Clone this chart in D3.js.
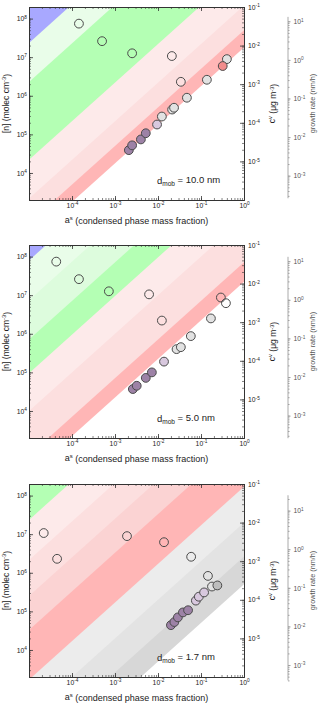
<!DOCTYPE html>
<html>
<head>
<meta charset="utf-8">
<script src="https://cdn.jsdelivr.net/npm/d3@7"></script>
<style>
body { margin: 0; background: #fff; }
svg { display: block; font-family: "Liberation Sans", Arial, sans-serif; }
</style>
</head>
<body>
<svg id="chart" width="320" height="705"></svg>
<script>
// ---- data ----
const aTicks = [1e-4, 1e-3, 1e-2, 1e-1, 1];
const nTicks = [1e4, 1e5, 1e6, 1e7, 1e8];
const cTicks = [1e-5, 1e-4, 1e-3, 1e-2, 1e-1];
const grTicks = [1e-3, 1e-2, 1e-1, 1, 10];
const dmob = ['10.0', '5.0', '1.7'];

// band edges in log10 C* (= c^v / a^s); each band runs from its edge down to the next
const bands1 = [[9, 'blue'], [3.07, 'paleGreen'], [2.06, 'green'], [0.04, 'pink1'], [-0.96, 'pink2'], [-1.6, 'red'], [-2.05, 'white']];
const bands2 = [[9, 'blue'], [3.6, 'paleGreen'], [2.57, 'paleGreen2'], [1.55, 'green'], [0.68, 'pink1'], [-0.3, 'pink2'], [-1.45, 'red'], [-1.95, 'white']];
const bands3 = [[9, 'green'], [3.07, 'pink1'], [2.03, 'pink2'], [1.1, 'pink3'], [0.22, 'red'], [-1.07, 'gray1'], [-2.0, 'gray2'], [-2.88, 'gray3'], [-3.6, 'white']];

// observations: [a^s, [n], kind]
const obs1 = [
  [1.45e-4, 7.4e7, 'open'], [5.0e-4, 2.6e7, 'open'], [2.5e-3, 1.26e7, 'open'], [0.021, 1.07e7, 'open'], [0.034, 2.3e6, 'open'],
  [2.1e-3, 3.9e4, 'purple'], [2.5e-3, 5.2e4, 'purple'], [4.0e-3, 7.4e4, 'purple'], [5.2e-3, 1.07e5, 'purple'],
  [9.5e-3, 1.8e5, 'lilac'], [0.0123, 2.9e5, 'light'], [0.0213, 4.4e5, 'light'], [0.0236, 4.9e5, 'light'],
  [0.047, 8.9e5, 'light'], [0.137, 2.6e6, 'light'], [0.40, 8.9e6, 'light'], [0.32, 5.9e6, 'red']
];
const obs2 = [
  [4.3e-5, 7.4e7, 'open'], [1.45e-4, 2.6e7, 'open'], [7.2e-4, 1.26e7, 'open'], [6.2e-3, 1.05e7, 'open'],
  [0.0123, 2.2e6, 'open'], [0.29, 8.7e6, 'open'], [0.38, 6.2e6, 'open'],
  [2.6e-3, 3.7e4, 'purple'], [3.2e-3, 4.5e4, 'purple'], [5.2e-3, 7.2e4, 'purple'], [7.2e-3, 1.0e5, 'purple'],
  [0.0138, 1.9e5, 'lilac'], [0.027, 4.0e5, 'light'], [0.034, 4.5e5, 'light'], [0.058, 8.7e5, 'light'], [0.17, 2.5e6, 'light']
];
const obs3 = [
  [2.2e-5, 1.07e7, 'open'], [4.5e-5, 2.3e6, 'open'], [1.9e-3, 8.9e6, 'open'], [0.0138, 6.2e6, 'open'],
  [0.059, 2.6e6, 'open'], [0.145, 8.3e5, 'open'],
  [0.020, 4.4e4, 'purple'], [0.024, 5.3e4, 'purple'], [0.029, 7.0e4, 'purple'], [0.038, 9.4e4, 'purple'], [0.05, 1.07e5, 'purple'],
  [0.076, 1.9e5, 'lilac'], [0.089, 2.4e5, 'lilac'], [0.118, 3.1e5, 'lilac'], [0.18, 4.4e5, 'light'], [0.24, 4.7e5, 'gray']
];

// growth-rate axis: log10(GR) - log10(c^v), and extent of the axis in GR
const grOffset = [2.37, 2.42, 2.69];
const grExtent = [[2.6e-4, 13], [2.6e-4, 13], [4e-4, 25]];

// ---- styles ----
const bandColor = {
  blue: '#a8a8ff', paleGreen: '#e9fde9', paleGreen2: '#ddfcdd', green: '#b4ffb4',
  pink1: '#fdeaea', pink2: '#fcdfdf', pink3: '#fbd3d3', red: '#ffb6b6',
  gray1: '#ececec', gray2: '#e3e3e3', gray3: '#d7d7d7', white: '#ffffff'
};
const dotColor = { open: 'none', purple: '#9d82a6', lilac: '#d8c8de', light: '#e2e2e2', gray: '#bdbdbd', red: '#f28c8c' };

const svg = d3.select('#chart');
const X0 = 29, X1 = 244, PH = 193;
const tops = [7, 245, 484];
const panels = [
  { bands: bands1, obs: obs1 },
  { bands: bands2, obs: obs2 },
  { bands: bands3, obs: obs3 }
];

function logTicks(lo, hi) {
  const out = [];
  for (let e = Math.floor(Math.log10(lo)); e <= Math.ceil(Math.log10(hi)); e++) {
    for (let m = 1; m < 10; m++) {
      const v = m * Math.pow(10, e);
      if (v >= lo * 0.999 && v <= hi * 1.001) out.push(v);
    }
  }
  return out;
}

function pow10(text) {
  text.each(function(d) {
    const t = d3.select(this);
    const e = Math.round(Math.log10(d));
    t.text(null);
    t.append('tspan').text('10');
    t.append('tspan').attr('dy', '-0.5em').attr('font-size', '0.7em').text(e);
  });
}

function drawAxis(g, axis, minor, major, labels) {
  g.call(axis.tickValues(minor).tickSize(-2).tickFormat(''));
  g.selectAll('.tick line').attr('stroke', '#333').attr('stroke-width', 0.6);
  const m = g.append('g').call(axis.tickValues(major).tickSize(-4).tickFormat(labels ? d => d : ''));
  m.select('.domain').remove();
  m.selectAll('.tick line').attr('stroke', '#333').attr('stroke-width', 0.8);
  g.select('.domain').attr('stroke', '#333').attr('stroke-width', 1);
  if (labels) m.selectAll('.tick text').attr('font-size', 6.8).attr('fill', '#222').call(pow10);
}

panels.forEach((p, i) => {
  const top = tops[i], bottom = top + PH;
  const x = d3.scaleLog().domain([1e-5, 1]).range([X0, X1]);
  const yc = d3.scaleLog().domain([1e-6, 1e-1]).range([bottom, top]);
  const yn = d3.scaleLog().domain([Math.pow(10, 3.3), Math.pow(10, 8.3)]).range([bottom, top]);
  const gr = d3.scaleLog()
    .domain([Math.pow(10, -6 + grOffset[i]), Math.pow(10, -1 + grOffset[i])])
    .range([bottom, top]);

  const g = svg.append('g');
  const clipId = 'clip' + i;
  g.append('clipPath').attr('id', clipId)
    .append('rect').attr('x', X0).attr('y', top).attr('width', X1 - X0).attr('height', PH);

  // volatility bands: fill everything below each edge line, highest edge first
  const bandLine = d3.line().x(d => x(d[0])).y(d => yc(d[1]));
  const bg = g.append('g').attr('clip-path', `url(#${clipId})`);
  p.bands.forEach(([edge, key]) => {
    const k = Math.pow(10, edge);
    const pts = [[1e-9, k * 1e-9], [1e3, k * 1e3], [1e3, 1e-14], [1e-9, 1e-14]];
    bg.append('path').attr('d', bandLine(pts) + 'Z').attr('fill', bandColor[key]);
  });

  // observations
  g.append('g').selectAll('circle').data(p.obs).join('circle')
    .attr('cx', d => x(d[0])).attr('cy', d => yn(d[1])).attr('r', 4.4)
    .attr('fill', d => dotColor[d[2]])
    .attr('stroke', '#4a4a4a').attr('stroke-width', 1);

  // frame axes
  const aMinor = logTicks(1e-5, 1), nMinor = logTicks(Math.pow(10, 3.3), Math.pow(10, 8.3)), cMinor = logTicks(1e-6, 1e-1);
  drawAxis(g.append('g').attr('transform', `translate(0,${bottom})`), d3.axisBottom(x).tickPadding(3), aMinor, aTicks, true);
  drawAxis(g.append('g').attr('transform', `translate(0,${top})`), d3.axisTop(x), aMinor, aTicks, false);
  drawAxis(g.append('g').attr('transform', `translate(${X0},0)`), d3.axisLeft(yn).tickPadding(2), nMinor, nTicks, true);
  drawAxis(g.append('g').attr('transform', `translate(${X1},0)`), d3.axisRight(yc).tickPadding(4), cMinor, cTicks, true);

  // growth-rate axis
  const gAx = g.append('g').attr('transform', 'translate(288,0)');
  const grLo = grExtent[i][0], grHi = grExtent[i][1];
  gAx.append('line').attr('y1', gr(grLo)).attr('y2', gr(grHi)).attr('stroke', '#a0a0a0').attr('stroke-width', 0.9);
  const grMinor = gAx.append('g').call(d3.axisRight(gr).tickValues(logTicks(grLo, grHi)).tickSize(1.5).tickFormat(''));
  grMinor.select('.domain').remove();
  grMinor.selectAll('.tick line').attr('stroke', '#a0a0a0');
  const grMajor = gAx.append('g').call(d3.axisRight(gr).tickValues(grTicks).tickSize(2.5).tickPadding(3));
  grMajor.select('.domain').remove();
  grMajor.selectAll('.tick line').attr('stroke', '#a0a0a0');
  grMajor.selectAll('.tick text').attr('font-size', 6.8).attr('fill', '#555').call(pow10);

  // axis titles
  const mid = top + PH / 2;
  const tl = g.append('text').attr('transform', `translate(9,${mid}) rotate(-90)`)
    .attr('text-anchor', 'middle').attr('font-size', 8.5).attr('fill', '#222');
  tl.append('tspan').text('[n] (molec cm');
  tl.append('tspan').attr('dy', '-0.45em').attr('font-size', 5.8).text('-3');
  tl.append('tspan').attr('dy', '0.45em').text(')');

  const tr = g.append('text').attr('transform', `translate(275,${mid}) rotate(-90)`)
    .attr('text-anchor', 'middle').attr('font-size', 8.5).attr('fill', '#222');
  tr.append('tspan').text('c');
  tr.append('tspan').attr('dy', '-0.45em').attr('font-size', 5.8).text('v');
  tr.append('tspan').attr('dy', '0.45em').text(' (\u03bcg m');
  tr.append('tspan').attr('dy', '-0.45em').attr('font-size', 5.8).text('-3');
  tr.append('tspan').attr('dy', '0.45em').text(')');

  g.append('text').attr('transform', `translate(315,${mid}) rotate(-90)`)
    .attr('text-anchor', 'middle').attr('font-size', 7.3).attr('fill', '#555')
    .text('growth rate (nm/h)');

  const tx = g.append('text').attr('x', (X0 + X1) / 2).attr('y', bottom + 23)
    .attr('text-anchor', 'middle').attr('font-size', 9).attr('fill', '#222');
  tx.append('tspan').text('a');
  tx.append('tspan').attr('dy', '-0.45em').attr('font-size', 6).text('s');
  tx.append('tspan').attr('dy', '0.45em').text(' (condensed phase mass fraction)');

  const td = g.append('text').attr('x', 157).attr('y', top + 177)
    .attr('font-size', 9.5).attr('fill', '#222');
  td.append('tspan').text('d');
  td.append('tspan').attr('dy', '0.35em').attr('font-size', 6.5).text('mob');
  td.append('tspan').attr('dy', '-0.35em').text(` = ${dmob[i]} nm`);
});
</script>
</body>
</html>
